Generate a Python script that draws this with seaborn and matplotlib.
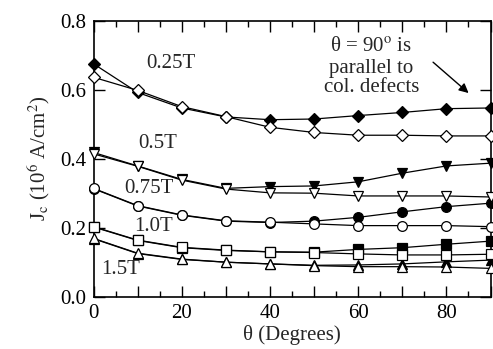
import numpy as np
import pandas as pd
import matplotlib
matplotlib.use('Agg')
import matplotlib.pyplot as plt
from matplotlib.ticker import MultipleLocator
import seaborn as sns

# Jc(theta) fuer verschiedene Felder, gefuellt = mit Defekten, offen = ohne
theta = [0, 10, 20, 30, 40, 50, 60, 70, 80, 90]

jc_025_filled = [0.675, 0.592, 0.547, 0.521, 0.513, 0.515, 0.525, 0.534, 0.545, 0.547]
jc_025_open = [0.636, 0.598, 0.551, 0.522, 0.491, 0.476, 0.468, 0.468, 0.466, 0.466]
jc_05_filled = [0.418, 0.379, 0.340, 0.314, 0.319, 0.321, 0.333, 0.358, 0.379, 0.387]
jc_05_open = [0.414, 0.378, 0.338, 0.312, 0.301, 0.300, 0.292, 0.292, 0.292, 0.289]
jc_075_filled = [0.313, 0.263, 0.236, 0.219, 0.215, 0.219, 0.230, 0.246, 0.261, 0.271]
jc_075_open = [0.314, 0.264, 0.237, 0.220, 0.216, 0.211, 0.206, 0.206, 0.206, 0.203]
jc_10_filled = [0.202, 0.163, 0.142, 0.134, 0.130, 0.129, 0.137, 0.142, 0.152, 0.161]
jc_10_open = [0.203, 0.164, 0.143, 0.135, 0.130, 0.128, 0.124, 0.121, 0.121, 0.123]
jc_15_filled = [0.168, 0.125, 0.108, 0.100, 0.095, 0.091, 0.092, 0.095, 0.101, 0.106]
jc_15_open = [0.169, 0.126, 0.109, 0.100, 0.095, 0.090, 0.087, 0.087, 0.086, 0.082]

field_labels = ['0.25T', '0.5T', '0.75T', '1.0T', '1.5T']
markers = ['D', 'v', 'o', 's', '^']

series = [
    (jc_025_filled, jc_025_open),
    (jc_05_filled, jc_05_open),
    (jc_075_filled, jc_075_open),
    (jc_10_filled, jc_10_open),
    (jc_15_filled, jc_15_open),
]

sns.set_style('ticks')
plt.rcParams['font.family'] = ['Liberation Serif', 'DejaVu Serif']
plt.rcParams['mathtext.fontset'] = 'stix'
plt.rcParams['font.size'] = 15

fig = plt.figure(figsize=(4.93, 3.49), dpi=100)
ax = fig.add_axes([0.1897, 0.1499, 0.8053, 0.7908])

msize = {'D': 6.5, 'v': 7, 'o': 7, 's': 6.5, '^': 7}
for (filled, empty), m in zip(series, markers):
    # gefuellte zuerst, offene darueber
    sns.lineplot(x=theta, y=filled, ax=ax, color='black', lw=0.9, marker=m,
                 markersize=msize[m], markerfacecolor='black', markeredgecolor='black',
                 markeredgewidth=0.9, clip_on=False, zorder=3)
    sns.lineplot(x=theta, y=empty, ax=ax, color='black', lw=0.9, marker=m,
                 markersize=msize[m], markerfacecolor='white', markeredgecolor='black',
                 markeredgewidth=0.9, clip_on=False, zorder=4)

ax.set_xlim(0, 90)
ax.set_ylim(0, 0.8)
ax.set_xticks(range(0, 91, 10))
ax.set_xticklabels(['0', '', '20', '', '40', '', '60', '', '80', ''])
ax.xaxis.set_minor_locator(MultipleLocator(5))
ax.set_yticks([0.0, 0.2, 0.4, 0.6, 0.8])
ax.set_yticklabels(['0.0', '0.2', '0.4', '0.6', '0.8'])
ax.tick_params(which='both', direction='in', top=True, right=True, labelsize=15,
               width=1, colors='black')
ax.tick_params(which='major', length=8, pad=5)
ax.tick_params(which='minor', length=4)
for s in ax.spines.values():
    s.set_linewidth(1.2)
    s.set_color('black')

ax.set_xlabel('θ (Degrees)', fontsize=15, labelpad=2)
ax.set_ylabel(r'J$_{\rm c}$ (10$^{6}$ A/cm$^{2}$)', fontsize=15, labelpad=6)

# Feldbeschriftungen
label_pos = [(17.5, 0.675), (14.5, 0.445), (12.5, 0.315), (13.5, 0.203), (6.2, 0.078)]
for lab, (px, py) in zip(field_labels, label_pos):
    ax.text(px, py, lab, ha='center', va='center', fontsize=15)

ax.text(63, 0.726, r'θ = 90$^{\rm o}$ is', ha='center', va='center', fontsize=15)
ax.text(63, 0.660, 'parallel to', ha='center', va='center', fontsize=15)
ax.text(63, 0.605, 'col. defects', ha='center', va='center', fontsize=15)
ax.annotate('', xy=(85.5, 0.585), xytext=(76.5, 0.685),
            arrowprops=dict(arrowstyle='-|>', color='black', lw=1,
                            mutation_scale=14))

fig.savefig('out.png', dpi=100)
